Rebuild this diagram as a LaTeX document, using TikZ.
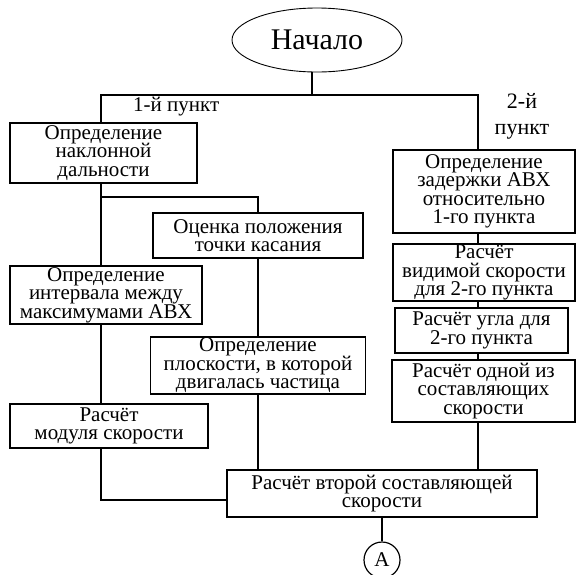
\documentclass[tikz,border=0pt]{standalone}
\usepackage{fontspec}
\setmainfont{Liberation Serif}
\usetikzlibrary{shapes.geometric}

\newcommand\blockfont{\fontsize{21}{18.5}\selectfont\lineskiplimit=-30pt}

\begin{document}
\begin{tikzpicture}[
    x=1pt, y=-1pt,
    every node/.style={font=\blockfont},
    block/.style={draw, rectangle, line width=1.2pt, inner sep=0pt, align=center},
    terminal/.style={draw, ellipse, line width=0.9pt, inner sep=0pt, font=\fontsize{30}{30}\selectfont},
    connector/.style={draw, circle, line width=1.2pt, inner sep=0pt, minimum size=36},
    link/.style={line width=1.2pt}
]
    \useasboundingbox (0,0) rectangle (577,574);

    % Start
    \node[terminal, minimum width=170, minimum height=64] (start) at (317,40) {Начало};

    % Left column (1-й пункт)
    \node[block, minimum width=187, minimum height=60] (dal) at (103.5,153) {Определение\\наклонной\\дальности};
    \node[block, minimum width=192, minimum height=58] (int) at (106,295) {Определение\\интервала между\\максимумами АВХ};
    \node[block, minimum width=198, minimum height=44] (mod) at (109,426) {Расчёт\\модуля скорости};

    % Middle column
    \node[block, minimum width=210, minimum height=45] (ots) at (258,235.5) {Оценка положения\\точки касания};
    \node[block, minimum width=215, minimum height=57] (plo) at (258,365.5) {Определение\\плоскости, в которой\\двигалась частица};

    % Right column (2-й пункт)
    \node[block, minimum width=182, minimum height=83] (zad) at (484,191.5) {Определение\\задержки АВХ\\относительно\\1-го пункта};
    \node[block, minimum width=182, minimum height=57] (vid) at (484,272.5) {Расчёт\\видимой скорости\\для 2-го пункта};
    \node[block, minimum width=173, minimum height=45] (ugl) at (481.5,330.5) {Расчёт угла для\\2-го пункта};
    \node[block, minimum width=183, minimum height=62] (odn) at (483.5,391) {Расчёт одной из\\составляющих\\скорости};

    % Merge and exit
    \node[block, minimum width=310, minimum height=47] (res) at (382,493.5) {Расчёт второй составляющей\\скорости};
    \node[connector] (exitA) at (382,560) {A};

    % Branch labels
    \node[anchor=west, inner sep=0pt] (lab1) at (133,107) {1-й пункт};
    \node[align=center, inner sep=0pt, font=\fontsize{22}{26}\selectfont] (lab2) at (522,116) {2-й\\пункт};

    % Junction points
    \coordinate (fork) at (312,95);
    \coordinate (split) at (0,197);
    \coordinate (merge) at (0,500);
    \coordinate (lcol) at (101,0);
    \coordinate (rcol) at (478,0);

    % Connectors
    \draw[link] (fork |- start.south) -- (fork);
    \draw[link] (lcol |- dal.north) |- (fork) -| (rcol |- zad.north);
    \draw[link] (lcol |- dal.south) -- (lcol |- int.north);
    \draw[link] (lcol |- split) -| (ots.north);
    \draw[link] (lcol |- int.south) -- (lcol |- mod.north);
    \draw[link] (lcol |- mod.south) |- (merge -| res.west);
    \draw[link] (ots.south) -- (plo.north);
    \draw[link] (plo.south) -- (plo.south |- res.north);
    \draw[link] (rcol |- zad.south) -- (rcol |- vid.north);
    \draw[link] (rcol |- vid.south) -- (rcol |- ugl.north);
    \draw[link] (rcol |- ugl.south) -- (rcol |- odn.north);
    \draw[link] (rcol |- odn.south) -- (rcol |- res.north);
    \draw[link] (res.south) -- (exitA.north);
\end{tikzpicture}
\end{document}
